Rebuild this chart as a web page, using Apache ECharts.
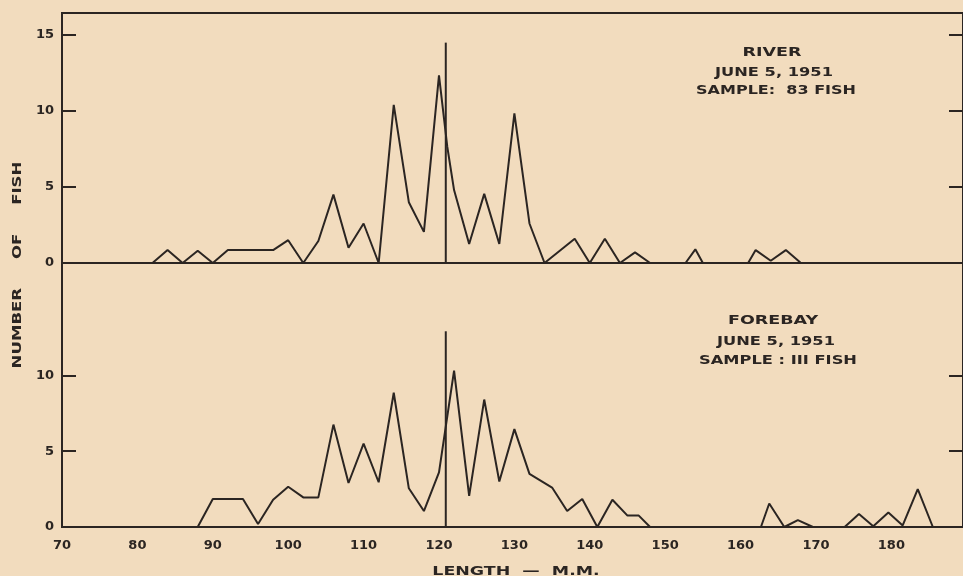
<!DOCTYPE html>
<html>
<head>
<meta charset="utf-8">
<script src="https://cdn.jsdelivr.net/npm/echarts@6/dist/echarts.min.js"></script>
<style>
html,body{margin:0;padding:0;background:#f2dcbe;}
#chart{width:963px;height:576px;}
</style>
</head>
<body>
<div id="chart"></div>
<script>
// ---- data ----
const xTickLabels = [70, 80, 90, 100, 110, 120, 130, 140, 150, 160, 170, 180];
const riverTicks = [0, 5, 10, 15];
const forebayTicks = [0, 5, 10];

const riverLength = [82, 84, 86, 88, 90, 92, 94, 96, 98, 100, 102, 104, 106, 108, 110, 112, 114, 116, 118, 120, 121.1, 122, 124, 126, 128, 130, 132, 134, 138, 140, 142, 144, 146, 148, 152.7, 154, 155, 161, 162, 164, 166, 168];
const riverCount  = [0, 0.85, 0, 0.8, 0, 0.85, 0.85, 0.85, 0.85, 1.5, 0, 1.45, 4.5, 1.0, 2.6, 0, 10.4, 4.0, 2.05, 12.35, 7.65, 4.8, 1.25, 4.55, 1.25, 9.85, 2.6, 0, 1.6, 0, 1.6, 0, 0.7, 0, 0, 0.9, 0, 0, 0.85, 0.15, 0.85, 0];

const forebayLength = [88, 90, 92, 94, 96, 98, 100, 102, 104, 106, 108, 110, 112, 114, 116, 118, 120, 122, 124, 126, 128, 130, 132, 135, 137, 139, 141, 143, 145, 146.5, 148, 162.7, 163.8, 165.8, 167.6, 169.6, 173.8, 175.7, 177.6, 179.6, 181.5, 183.5, 185.5];
const forebayCount  = [0, 1.85, 1.85, 1.85, 0.2, 1.8, 2.65, 1.95, 1.95, 6.75, 2.9, 5.5, 2.95, 8.85, 2.55, 1.05, 3.6, 10.3, 2.05, 8.4, 3.0, 6.45, 3.5, 2.6, 1.05, 1.85, 0, 1.8, 0.75, 0.75, 0, 0, 1.55, 0, 0.45, 0, 0, 0.85, 0.05, 0.95, 0.1, 2.5, 0];

const markerLength = 120.9;
const riverMarkerTop = 14.5;
const forebayMarkerTop = 12.9;

const riverNote = ['RIVER', 'JUNE 5, 1951', 'SAMPLE:  83 FISH'];
const forebayNote = ['FOREBAY', 'JUNE 5, 1951', 'SAMPLE : III FISH'];

// ---- chart ----
const INK = '#2b2522';
const FONT = 'DejaVu Sans';
const pairs = (xs, ys) => xs.map((x, i) => [x, ys[i]]);

const chart = echarts.init(document.getElementById('chart'), null, {renderer: 'canvas'});

function xAxisCfg(gridIndex, showLabels) {
  return {
    type: 'value', gridIndex, min: 70, max: 189.5, interval: 10,
    axisLine: {show: true, onZero: false, lineStyle: {color: INK, width: 2}},
    axisTick: {show: false},
    splitLine: {show: false},
    axisLabel: {
      show: showLabels, margin: 12, color: INK, fontFamily: FONT, fontWeight: 'bold', fontSize: 13,
      customValues: xTickLabels
    }
  };
}
function yAxisCfg(gridIndex, max, ticks, pos) {
  return {
    type: 'value', gridIndex, min: 0, max, position: pos,
    axisLine: {show: true, lineStyle: {color: INK, width: 2}},
    axisTick: {show: true, inside: true, length: 14, lineStyle: {color: INK, width: 2}, customValues: ticks},
    splitLine: {show: false},
    axisLabel: {
      show: pos === 'left', margin: 8, color: INK, fontFamily: FONT, fontWeight: 'bold', fontSize: 13,
      customValues: ticks
    }
  };
}
function noteTexts(lines, cx, ys, scales) {
  return lines.map((t, i) => ({
    type: 'text', x: cx[i], y: ys[i], scaleX: scales[i],
    style: {text: t, fill: INK, fontFamily: FONT, fontWeight: 'bold', fontSize: 12.5,
            textAlign: 'center', textVerticalAlign: 'middle'}
  }));
}

const option = {
  backgroundColor: '#f2dcbe',
  animation: false,
  grid: [
    {left: 62, top: 13, width: 905, height: 250, show: true, borderColor: INK, borderWidth: 2},
    {left: 62, top: 263, width: 905, height: 264, show: true, borderColor: INK, borderWidth: 2}
  ],
  xAxis: [xAxisCfg(0, false), xAxisCfg(1, true)],
  yAxis: [
    yAxisCfg(0, 16.45, riverTicks, 'left'),
    yAxisCfg(1, 17.4, forebayTicks, 'left'),
    yAxisCfg(0, 16.45, riverTicks, 'right'),
    yAxisCfg(1, 17.4, forebayTicks, 'right')
  ],
  series: [
    {type: 'line', name: 'River', xAxisIndex: 0, yAxisIndex: 0, data: pairs(riverLength, riverCount),
     symbol: 'none', lineStyle: {color: INK, width: 2}, clip: true},
    {type: 'line', name: 'Forebay', xAxisIndex: 1, yAxisIndex: 1, data: pairs(forebayLength, forebayCount),
     symbol: 'none', lineStyle: {color: INK, width: 2}, clip: true},
    {type: 'line', name: 'River marker', xAxisIndex: 0, yAxisIndex: 0,
     data: [[markerLength, 0], [markerLength, riverMarkerTop]],
     symbol: 'none', lineStyle: {color: INK, width: 2}},
    {type: 'line', name: 'Forebay marker', xAxisIndex: 1, yAxisIndex: 1,
     data: [[markerLength, 0], [markerLength, forebayMarkerTop]],
     symbol: 'none', lineStyle: {color: INK, width: 2}}
  ],
  graphic: [
    ...noteTexts(riverNote, [772, 774, 776], [53, 73, 91], [1.4, 1.3, 1.28]),
    ...noteTexts(forebayNote, [773, 776, 778], [321, 342, 361], [1.4, 1.3, 1.3]),
    {type: 'text', x: 18, y: 265, rotation: Math.PI / 2, scaleX: 1.38,
     style: {text: 'NUMBER     OF     FISH', fill: INK, fontFamily: FONT, fontWeight: 'bold', fontSize: 12,
             textAlign: 'center', textVerticalAlign: 'middle'}},
    {type: 'text', x: 516, y: 572, scaleX: 1.45,
     style: {text: 'LENGTH  —  M.M.', fill: INK, fontFamily: FONT, fontWeight: 'bold', fontSize: 12,
             textAlign: 'center', textVerticalAlign: 'middle'}}
  ]
};
chart.setOption(option);
</script>
</body>
</html>
